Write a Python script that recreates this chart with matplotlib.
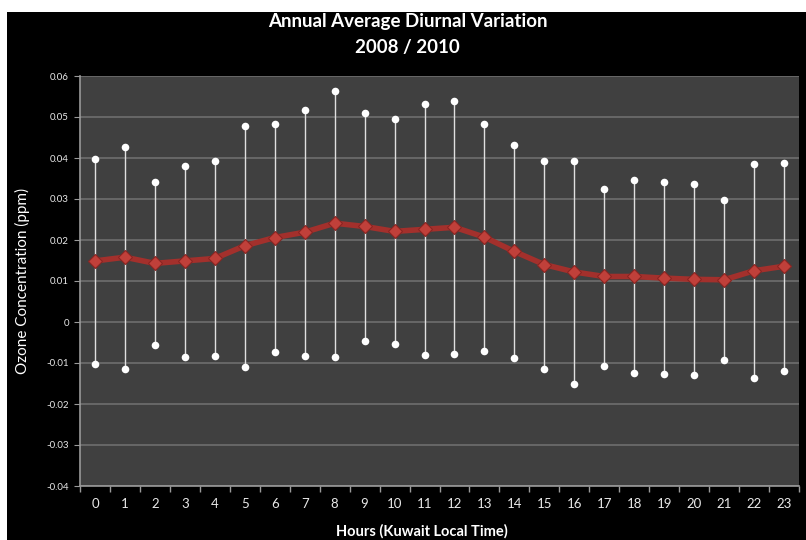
import matplotlib
matplotlib.use("Agg")
import matplotlib.pyplot as plt
from matplotlib.patches import Rectangle

# hodiny (kuvajtsky miestny cas)
hodiny = list(range(24))

priemer = [0.0149, 0.0158, 0.0143, 0.0149, 0.0155, 0.0186, 0.0206, 0.0219,
           0.0241, 0.0233, 0.0221, 0.0226, 0.0231, 0.0207, 0.0172, 0.0140,
           0.0122, 0.0111, 0.0111, 0.0107, 0.0104, 0.0103, 0.0125, 0.0136]

horna = [0.0398, 0.0428, 0.0341, 0.0380, 0.0393, 0.0479, 0.0483, 0.0516,
         0.0564, 0.0510, 0.0494, 0.0532, 0.0540, 0.0482, 0.0431, 0.0393,
         0.0393, 0.0325, 0.0346, 0.0341, 0.0336, 0.0297, 0.0386, 0.0389]

dolna = [-0.0102, -0.0114, -0.0057, -0.0085, -0.0083, -0.0109, -0.0073, -0.0084,
         -0.0085, -0.0047, -0.0053, -0.0081, -0.0079, -0.0070, -0.0089, -0.0115,
         -0.0150, -0.0107, -0.0125, -0.0128, -0.0129, -0.0093, -0.0137, -0.0119]

y_ticky = [0.06, 0.05, 0.04, 0.03, 0.02, 0.01, 0, -0.01, -0.02, -0.03, -0.04]

plt.rcParams["font.family"] = ["Lato", "DejaVu Sans"]

fig = plt.figure(figsize=(8.06, 5.4), dpi=100, facecolor="white")
# cierne pozadie grafu, biely okraj hore a vlavo
fig.patches.append(Rectangle((7 / 806, 0), 1 - 7 / 806, 1 - 12 / 540,
                             transform=fig.transFigure, facecolor="black",
                             edgecolor="none", zorder=-10))

ax = fig.add_axes([80 / 806, 1 - 486 / 540, 719 / 806, 410 / 540])
ax.set_facecolor("#404040")

for y in y_ticky:
    ax.axhline(y, color="#6b6b6b", lw=1.3, zorder=1)

# fuzy a bodky
ax.vlines(hodiny, dolna, horna, color="#e0e0e0", lw=1.0, zorder=2)
ax.scatter(hodiny, horna, s=30, color="white", zorder=3, linewidths=0)
ax.scatter(hodiny, dolna, s=30, color="white", zorder=3, linewidths=0)

ax.plot(hodiny, priemer, color="#a3302c", lw=4, zorder=4,
        marker="D", markersize=7, markerfacecolor="#c0403a",
        markeredgecolor="#8a2522", markeredgewidth=0.8)

ax.set_xlim(-0.5, 23.5)
ax.set_ylim(-0.04, 0.06)
ax.set_yticks(y_ticky)
ax.set_yticklabels(["0" if v == 0 else f"{v:g}" for v in y_ticky])
ax.set_xticks(hodiny)
ax.set_xticks([h - 0.5 for h in hodiny] + [23.5], minor=True)

ax.tick_params(axis="x", which="major", length=0, pad=9, labelsize=9.5,
               colors="#e8e8e8")
ax.tick_params(axis="x", which="minor", length=4, color="#9a9a9a", width=1)
ax.tick_params(axis="y", length=4, color="#9a9a9a", labelsize=7,
               colors="#e8e8e8", pad=4)

for s in ["top", "right"]:
    ax.spines[s].set_visible(False)
for s in ["left", "bottom"]:
    ax.spines[s].set_color("#9a9a9a")
    ax.spines[s].set_linewidth(1.2)

ax.set_ylabel("Ozone Concentration (ppm)", color="white", fontsize=11, labelpad=12)
ax.set_xlabel("Hours (Kuwait Local Time)", color="white", fontsize=10.5,
              fontweight="bold")
ax.xaxis.set_label_coords((422 - 80) / 719, -0.093)

fig.text(0.506, 1 - 22 / 540, "Annual Average Diurnal Variation", color="white",
         fontsize=13.5, fontweight="bold", ha="center", va="center")
fig.text(0.506, 1 - 47 / 540, "2008 / 2010", color="white",
         fontsize=13.5, fontweight="bold", ha="center", va="center")

fig.savefig("out.png", dpi=100, facecolor="white")
